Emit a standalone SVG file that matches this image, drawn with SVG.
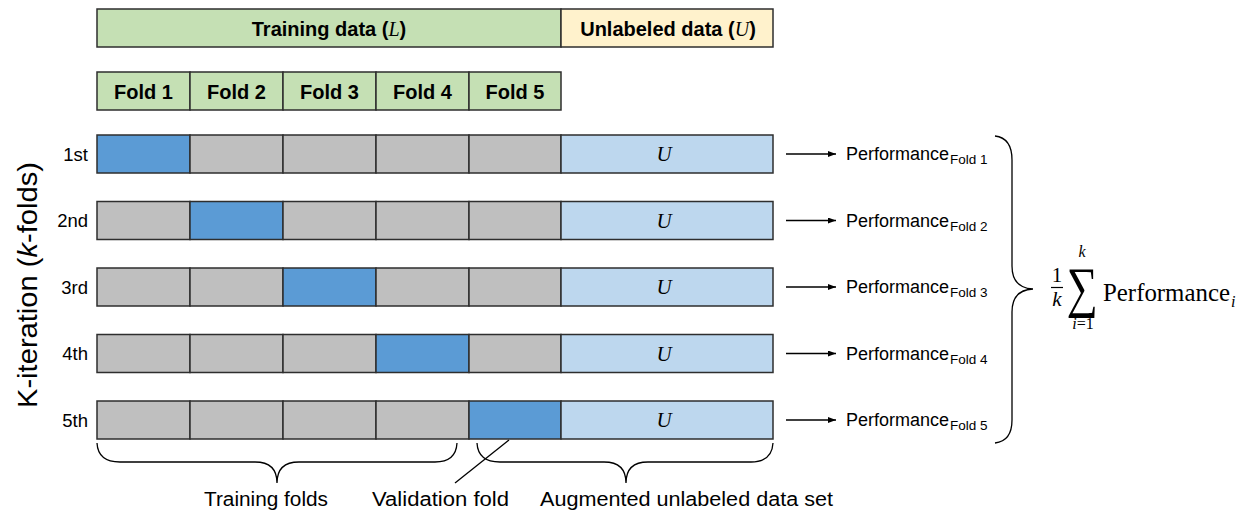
<svg xmlns="http://www.w3.org/2000/svg" width="1250" height="513" viewBox="0 0 1250 513">
<defs>
<marker id="arr" viewBox="0 0 8 6" refX="8" refY="3" markerWidth="8" markerHeight="6" markerUnits="userSpaceOnUse" orient="auto">
<path d="M0,0 L8,3 L0,6 Z" fill="#000"/>
</marker>
<style>
.c{stroke:#2e2e2e;stroke-width:1.5}
.g{fill:#C5E0B4}
.y{fill:#FFF2CC}
.b{fill:#5B9BD5}
.s{fill:#BFBFBF}
.u{fill:#BDD7EE}
.hb{font-family:"Liberation Sans",Arial,sans-serif;font-weight:bold;font-size:20px;fill:#000;text-anchor:middle}
.m{font-family:"Liberation Serif","Times New Roman",serif;font-style:italic}
.rl{font-family:"Liberation Sans",Arial,sans-serif;font-size:18.5px;fill:#000;text-anchor:end}
.ut{font-family:"Liberation Serif","Times New Roman",serif;font-style:italic;font-size:21px;fill:#000;text-anchor:middle}
.pf{font-family:"Liberation Sans",Arial,sans-serif;font-size:18px;fill:#000}
.sub{font-size:13.5px}
.bl{font-family:"Liberation Sans",Arial,sans-serif;font-size:20px;fill:#000;text-anchor:middle}
.ln{fill:none;stroke:#000;stroke-width:1.3}
.mt{font-family:"Liberation Serif","Times New Roman",serif;fill:#000}
</style>
</defs>

<g id="header">
<rect class="g c" x="97" y="9" width="464" height="38"/>
<rect class="y c" x="561" y="9" width="212" height="38"/>
<text class="hb" x="329" y="35.5" font-size="21">Training data (<tspan class="m" font-weight="normal">L</tspan>)</text>
<text class="hb" x="668" y="35.5" font-size="21">Unlabeled data (<tspan class="m" font-weight="normal">U</tspan>)</text>
</g>

<g id="folds">
<rect class="g c" x="97" y="72" width="93" height="38"/>
<rect class="g c" x="190" y="72" width="93" height="38"/>
<rect class="g c" x="283" y="72" width="93" height="38"/>
<rect class="g c" x="376" y="72" width="93" height="38"/>
<rect class="g c" x="469" y="72" width="92" height="38"/>
<text class="hb" x="143.5" y="98.5">Fold 1</text>
<text class="hb" x="236.5" y="98.5">Fold 2</text>
<text class="hb" x="329.5" y="98.5">Fold 3</text>
<text class="hb" x="422.5" y="98.5">Fold 4</text>
<text class="hb" x="515" y="98.5">Fold 5</text>
</g>

<text id="ylabel" transform="translate(37,285) rotate(-90)" font-family="Liberation Sans, Arial, sans-serif" font-size="28.5" text-anchor="middle" textLength="246" lengthAdjust="spacingAndGlyphs">K-iteration (<tspan font-style="italic">k</tspan>-folds)</text>

<g id="row1">
<rect class="b c" x="97" y="135" width="93" height="38"/>
<rect class="s c" x="190" y="135" width="93" height="38"/>
<rect class="s c" x="283" y="135" width="93" height="38"/>
<rect class="s c" x="376" y="135" width="93" height="38"/>
<rect class="s c" x="469" y="135" width="92" height="38"/>
<rect class="u c" x="561" y="135" width="212" height="38"/>
<text class="ut" x="664" y="161">U</text>
<text class="rl" x="88" y="160.5">1st</text>
<text class="pf" x="846" y="160">Performance<tspan class="sub" dx="1" dy="4">Fold 1</tspan></text>
</g>
<g id="row2">
<rect class="s c" x="97" y="201.5" width="93" height="38"/>
<rect class="b c" x="190" y="201.5" width="93" height="38"/>
<rect class="s c" x="283" y="201.5" width="93" height="38"/>
<rect class="s c" x="376" y="201.5" width="93" height="38"/>
<rect class="s c" x="469" y="201.5" width="92" height="38"/>
<rect class="u c" x="561" y="201.5" width="212" height="38"/>
<text class="ut" x="664" y="227.5">U</text>
<text class="rl" x="88" y="227">2nd</text>
<text class="pf" x="846" y="226.5">Performance<tspan class="sub" dx="1" dy="4">Fold 2</tspan></text>
</g>
<g id="row3">
<rect class="s c" x="97" y="268" width="93" height="38"/>
<rect class="s c" x="190" y="268" width="93" height="38"/>
<rect class="b c" x="283" y="268" width="93" height="38"/>
<rect class="s c" x="376" y="268" width="93" height="38"/>
<rect class="s c" x="469" y="268" width="92" height="38"/>
<rect class="u c" x="561" y="268" width="212" height="38"/>
<text class="ut" x="664" y="294">U</text>
<text class="rl" x="88" y="293.5">3rd</text>
<text class="pf" x="846" y="293">Performance<tspan class="sub" dx="1" dy="4">Fold 3</tspan></text>
</g>
<g id="row4">
<rect class="s c" x="97" y="334.5" width="93" height="38"/>
<rect class="s c" x="190" y="334.5" width="93" height="38"/>
<rect class="s c" x="283" y="334.5" width="93" height="38"/>
<rect class="b c" x="376" y="334.5" width="93" height="38"/>
<rect class="s c" x="469" y="334.5" width="92" height="38"/>
<rect class="u c" x="561" y="334.5" width="212" height="38"/>
<text class="ut" x="664" y="360.5">U</text>
<text class="rl" x="88" y="360">4th</text>
<text class="pf" x="846" y="359.5">Performance<tspan class="sub" dx="1" dy="4">Fold 4</tspan></text>
</g>
<g id="row5">
<rect class="s c" x="97" y="401" width="93" height="38"/>
<rect class="s c" x="190" y="401" width="93" height="38"/>
<rect class="s c" x="283" y="401" width="93" height="38"/>
<rect class="s c" x="376" y="401" width="93" height="38"/>
<rect class="b c" x="469" y="401" width="92" height="38"/>
<rect class="u c" x="561" y="401" width="212" height="38"/>
<text class="ut" x="664" y="427">U</text>
<text class="rl" x="88" y="426.5">5th</text>
<text class="pf" x="846" y="426">Performance<tspan class="sub" dx="1" dy="4">Fold 5</tspan></text>
</g>

<g id="connectors">
<line class="ln" x1="786" y1="154" x2="836" y2="154" marker-end="url(#arr)"/>
<line class="ln" x1="786" y1="220.5" x2="836" y2="220.5" marker-end="url(#arr)"/>
<line class="ln" x1="786" y1="287" x2="836" y2="287" marker-end="url(#arr)"/>
<line class="ln" x1="786" y1="353.5" x2="836" y2="353.5" marker-end="url(#arr)"/>
<line class="ln" x1="786" y1="420" x2="836" y2="420" marker-end="url(#arr)"/>
<path class="ln" d="M995,136 Q1012,138 1012,160 L1012,266 Q1012,288 1033,289 Q1012,290 1012,312 L1012,420 Q1012,441 995,443"/>
<path class="ln" d="M97,443 Q98,462 120,462 L255,462 Q277,462 277,483 Q277,462 299,462 L435,462 Q456,462 457,443"/>
<path class="ln" d="M477,443 Q478,462 500,462 L604,462 Q626,462 626,483 Q626,462 648,462 L751,462 Q772,462 773,443"/>
<line class="ln" x1="509" y1="440" x2="455" y2="483"/>
</g>

<g id="labels">
<text class="bl" x="266" y="506" textLength="124" lengthAdjust="spacingAndGlyphs">Training folds</text>
<text class="bl" x="440.5" y="506" textLength="137" lengthAdjust="spacingAndGlyphs">Validation fold</text>
<text class="bl" x="686.5" y="506" textLength="293" lengthAdjust="spacingAndGlyphs">Augmented unlabeled data set</text>
</g>

<g id="formula">
<text class="mt" x="1057" y="282" font-size="21" text-anchor="middle">1</text>
<line x1="1051" y1="287.5" x2="1063" y2="287.5" stroke="#000" stroke-width="1.2"/>
<text class="mt" x="1057" y="306" font-size="21" font-style="italic" text-anchor="middle">k</text>
<text class="mt" x="1082" y="257" font-size="16" font-style="italic" text-anchor="middle">k</text>
<text class="mt" transform="translate(1082,306) scale(0.78,1)" font-size="56" text-anchor="middle">∑</text>
<text class="mt" x="1083" y="329" font-size="16" text-anchor="middle"><tspan font-style="italic">i</tspan>=1</text>
<text class="mt" x="1103" y="301" font-size="25" textLength="127" lengthAdjust="spacingAndGlyphs">Performance</text>
<text class="mt" x="1231" y="307" font-size="16" font-style="italic">i</text>
</g>
</svg>
